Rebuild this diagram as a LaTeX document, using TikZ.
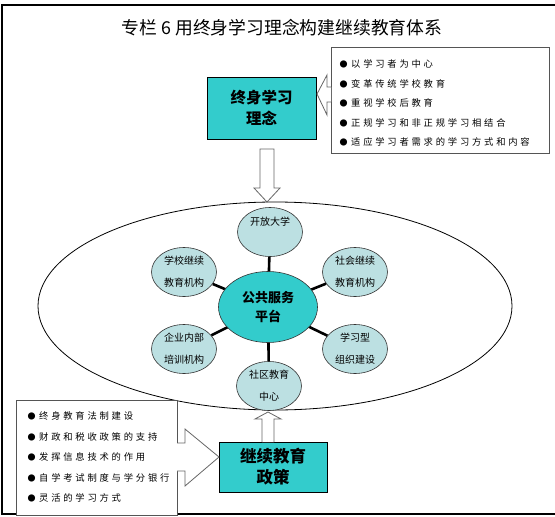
\documentclass[tikz,border=0pt]{standalone}
\usepackage{fontspec}
\setmainfont{Noto Sans CJK SC}
\newfontfamily\cjk{Noto Sans CJK SC}
\newfontfamily\cjksp[LetterSpace=30]{Noto Sans CJK SC}
\usetikzlibrary{shapes.geometric}
\definecolor{tealfill}{HTML}{33CCCC}
\definecolor{lightfill}{HTML}{BCE0E2}
\definecolor{framegray}{HTML}{555555}
\newcommand{\bul}{{\fontsize{8}{8}\selectfont ●}\hspace{3.5pt}}
\tikzset{
  tealbox/.style={draw=black, line width=0.8pt, fill=tealfill, align=center, inner sep=0pt,
    font=\cjk\bfseries\fontsize{15.5}{21}\selectfont},
  sub/.style={draw=black!80, line width=0.6pt, fill=lightfill, ellipse, inner sep=0pt,
    minimum width=65pt, minimum height=49pt, align=center,
    font=\cjk\fontsize{10}{22}\selectfont},
  hub/.style={draw=black!80, line width=0.6pt, fill=tealfill, ellipse, inner sep=0pt,
    minimum width=99pt, minimum height=71pt, align=center,
    font=\cjk\bfseries\fontsize{13}{19.5}\selectfont},
  conn/.style={line width=2.6pt, black},
  listbox/.style={draw=framegray, line width=1pt, fill=white, inner sep=0pt},
  listtext/.style={align=left, inner sep=0pt, anchor=west},
  blockarrow/.style={draw=black!60, line width=0.8pt, fill=white, line join=miter},
}
\begin{document}
\begin{tikzpicture}[x=1pt,y=-1pt]
\useasboundingbox (0,0) rectangle (555,517);
% outer frame
\draw[line width=1.3pt] (557,5) -- (2,5) -- (2,514) -- (557,514);
% title
\node[font=\cjk\fontsize{17.8}{20}\selectfont, inner sep=0pt] (title) at (282,28)
  {专栏 6 用终身学习理念构建继续教育体系};
% big ellipse
\node[draw=black, line width=0.8pt, ellipse, minimum width=474pt, minimum height=208pt, inner sep=0pt]
  (field) at (275,306) {};
% top list box
\node[listbox, minimum width=218pt, minimum height=106pt, anchor=north west] (ideas) at (331,47) {};
\node[listtext, font=\cjksp\fontsize{9.3}{19.5}\selectfont] (ideastext) at (339.5,103)
  {\bul 以学习者为中心\\\bul 变革传统学校教育\\\bul 重视学校后教育\\\bul 正规学习和非正规学习相结合\\\bul 适应学习者需求的学习方式和内容};
% bottom list box
\node[listbox, minimum width=161pt, minimum height=115pt, anchor=north west] (policies) at (16,400) {};
\node[listtext, font=\cjksp\fontsize{9.3}{20.5}\selectfont] (policiestext) at (27.5,457)
  {\bul 终身教育法制建设\\\bul 财政和税收政策的支持\\\bul 发挥信息技术的作用\\\bul 自学考试制度与学分银行\\\bul 灵活的学习方式};
% teal boxes
\node[tealbox, minimum width=109pt, minimum height=62pt] (idea) at (261.5,108) {终身学习\\理念};
\node[tealbox, minimum width=108pt, minimum height=50pt, font=\cjk\bfseries\fontsize{16.5}{21}\selectfont] (policy) at (273,467) {继续教育\\政策};
% sub ellipses
\node[sub] (open) at (270,232) {开放大学\\~};
\node[sub] (school) at (184,272) {学校继续\\教育机构};
\node[sub] (social) at (355,272) {社会继续\\教育机构};
\node[sub] (firm) at (184,349) {企业内部\\培训机构};
\node[sub] (org) at (355,349) {学习型\\组织建设};
\node[sub] (comm) at (269,386) {社区教育\\中心};
% hub connectors
\draw[conn] (268,307) -- (open);
\draw[conn] (268,307) -- (school);
\draw[conn] (268,307) -- (social);
\draw[conn] (268,307) -- (firm);
\draw[conn] (268,307) -- (org);
\draw[conn] (268,307) -- (comm);
\node[hub] (hubnode) at (268,307) {公共服务\\平台};
% block arrows
\draw[blockarrow] (260,149) -- (274,149) -- (274,188) -- (280,188) -- (267,202) -- (254,188) -- (260,188) -- cycle;
\draw[blockarrow] (262,442) -- (262,419) -- (255,419) -- (268,412) -- (281,419) -- (274,419) -- (274,442);
\draw[blockarrow] (331,87) -- (327,87) -- (327,75) -- (317,94) -- (327,115) -- (327,102) -- (331,102);
\draw[blockarrow] (177,443) -- (185,443) -- (185,429) -- (219,457) -- (185,486) -- (185,471) -- (177,471);
\end{tikzpicture}
\end{document}
